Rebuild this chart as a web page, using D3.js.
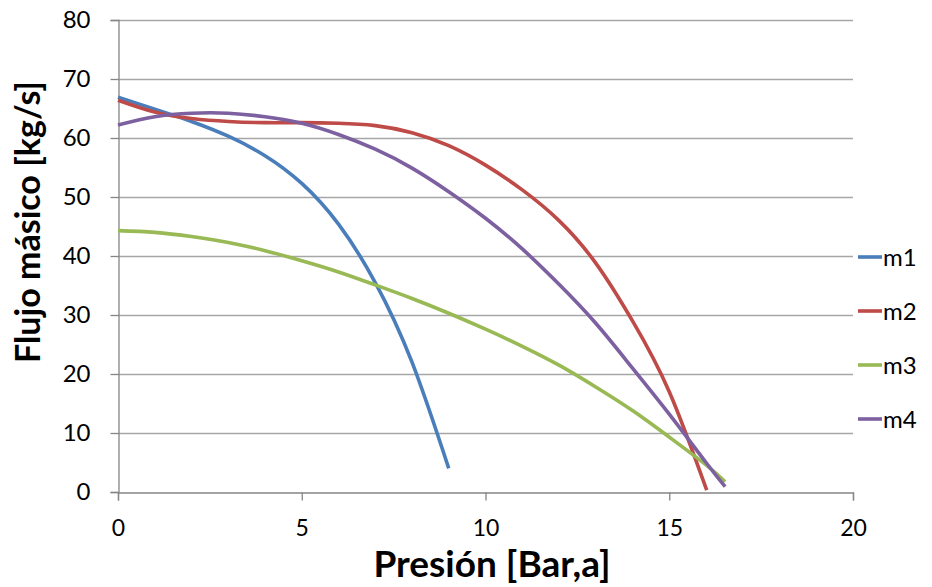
<!DOCTYPE html>
<html>
<head>
<meta charset="utf-8">
<script src="https://cdn.jsdelivr.net/npm/d3@7"></script>
<style>
  html, body { margin: 0; padding: 0; background: #fff; }
  svg { display: block; font-family: Lato, "Open Sans", "Liberation Sans", sans-serif; }
</style>
</head>
<body>
<svg id="chart" width="932" height="587"></svg>
<script>
// Pressure (Bar,a) vs mass flow (kg/s) for four curves
const seriesNames = ["m1", "m2", "m3", "m4"];
const seriesColors = ["#4A7EBB", "#BE4B48", "#98B954", "#7D60A0"];

const m1Pressure = [0, 1, 2, 3, 4, 5, 6, 7, 8, 9];
const m1Flow     = [66.9, 64.9, 62.8, 60.3, 57.0, 52.3, 45.4, 35.5, 22.0, 4.0];

const m2Pressure = [0, 1, 2, 3, 4, 5, 6, 7, 8, 9, 10, 11, 12, 13, 14, 15, 16.02];
const m2Flow     = [66.4, 64.4, 63.3, 62.8, 62.6, 62.6, 62.5, 62.1, 60.9, 58.7, 55.4, 51.2, 46.0, 38.8, 29.0, 17.0, 0.3];

const m3Pressure = [0, 1, 2, 3, 4, 5, 6, 7, 8, 9, 10, 11, 12, 13, 14, 15, 16, 16.52];
const m3Flow     = [44.3, 44.0, 43.3, 42.3, 40.9, 39.2, 37.3, 35.1, 32.8, 30.3, 27.6, 24.7, 21.5, 17.8, 13.8, 9.3, 4.6, 1.75];

const m4Pressure = [0, 1, 2, 3, 4, 5, 6, 7, 8, 9, 10, 11, 12, 13, 14, 15, 16, 16.52];
const m4Flow     = [62.2, 63.6, 64.2, 64.2, 63.6, 62.5, 60.6, 58.1, 54.9, 50.9, 46.4, 41.2, 35.2, 28.6, 21.0, 13.2, 5.0, 0.9];

const xTicks = [0, 5, 10, 15, 20];
const yTicks = [0, 10, 20, 30, 40, 50, 60, 70, 80];
const xTitle = "Presión [Bar,a]";
const yTitle = "Flujo másico [kg/s]";

const pressures = [m1Pressure, m2Pressure, m3Pressure, m4Pressure];
const flows = [m1Flow, m2Flow, m3Flow, m4Flow];
const series = seriesNames.map((name, i) => ({
  name,
  color: seriesColors[i],
  points: pressures[i].map((p, j) => [p, flows[i][j]])
}));

const svg = d3.select("#chart");
const plot = { left: 118, right: 853, top: 20, bottom: 492 };

const x = d3.scaleLinear().domain([0, 20]).range([plot.left, plot.right]);
const y = d3.scaleLinear().domain([0, 80]).range([plot.bottom, plot.top]);

const gridColor = "#A6A6A6";
const axisColor = "#868686";
const labelFont = "Lato, 'Open Sans', sans-serif";

// horizontal gridlines
svg.append("g")
  .selectAll("line")
  .data(yTicks.filter(t => t > 0))
  .join("line")
  .attr("x1", plot.left).attr("x2", plot.right)
  .attr("y1", d => Math.round(y(d)) + 0.5).attr("y2", d => Math.round(y(d)) + 0.5)
  .attr("stroke", gridColor).attr("stroke-width", 1.3);

// y axis
const yAxis = svg.append("g")
  .attr("transform", `translate(${plot.left + 0.5},0)`)
  .call(d3.axisLeft(y).tickValues(yTicks).tickSize(8).tickPadding(20).tickFormat(d3.format("d")));
yAxis.select(".domain").attr("stroke", axisColor).attr("stroke-width", 1.3);
yAxis.selectAll(".tick line").attr("stroke", axisColor).attr("stroke-width", 1.3);
yAxis.selectAll(".tick text")
  .attr("font-family", labelFont)
  .attr("font-size", 24).attr("fill", "#000");

// x axis
const xAxis = svg.append("g")
  .attr("transform", `translate(0,${plot.bottom + 0.5})`)
  .call(d3.axisBottom(x).tickValues(xTicks).tickSize(8).tickPadding(19).tickFormat(d3.format("d")));
xAxis.select(".domain").attr("stroke", axisColor).attr("stroke-width", 1.3);
xAxis.selectAll(".tick line").attr("stroke", axisColor).attr("stroke-width", 1.3);
xAxis.selectAll(".tick text")
  .attr("font-family", labelFont)
  .attr("font-size", 23).attr("fill", "#000");

// curves
const line = d3.line()
  .x(d => x(d[0]))
  .y(d => y(d[1]))
  .curve(d3.curveNatural);

svg.append("g")
  .selectAll("path")
  .data(series)
  .join("path")
  .attr("d", d => line(d.points))
  .attr("fill", "none")
  .attr("stroke", d => d.color)
  .attr("stroke-width", 3.6)
  .attr("stroke-linejoin", "round");

// legend
const legendY = [257, 311, 365, 419];
const legend = svg.append("g")
  .selectAll("g")
  .data(series)
  .join("g")
  .attr("transform", (d, i) => `translate(858,${legendY[i]})`);
legend.append("line")
  .attr("x1", 0).attr("x2", 24)
  .attr("stroke", d => d.color).attr("stroke-width", 3.6);
legend.append("text")
  .attr("x", 25).attr("y", 0).attr("dy", "0.36em")
  .attr("font-size", 24).attr("fill", "#000")
  .text(d => d.name);

// axis titles
svg.append("text")
  .attr("x", 492).attr("y", 577)
  .attr("text-anchor", "middle")
  .attr("font-size", 37).attr("font-weight", "bold").attr("fill", "#000")
  .text(xTitle);

svg.append("text")
  .attr("transform", "translate(40,222) rotate(-90)")
  .attr("text-anchor", "middle")
  .attr("font-size", 34).attr("font-weight", "bold").attr("fill", "#000")
  .text(yTitle);
</script>
</body>
</html>
